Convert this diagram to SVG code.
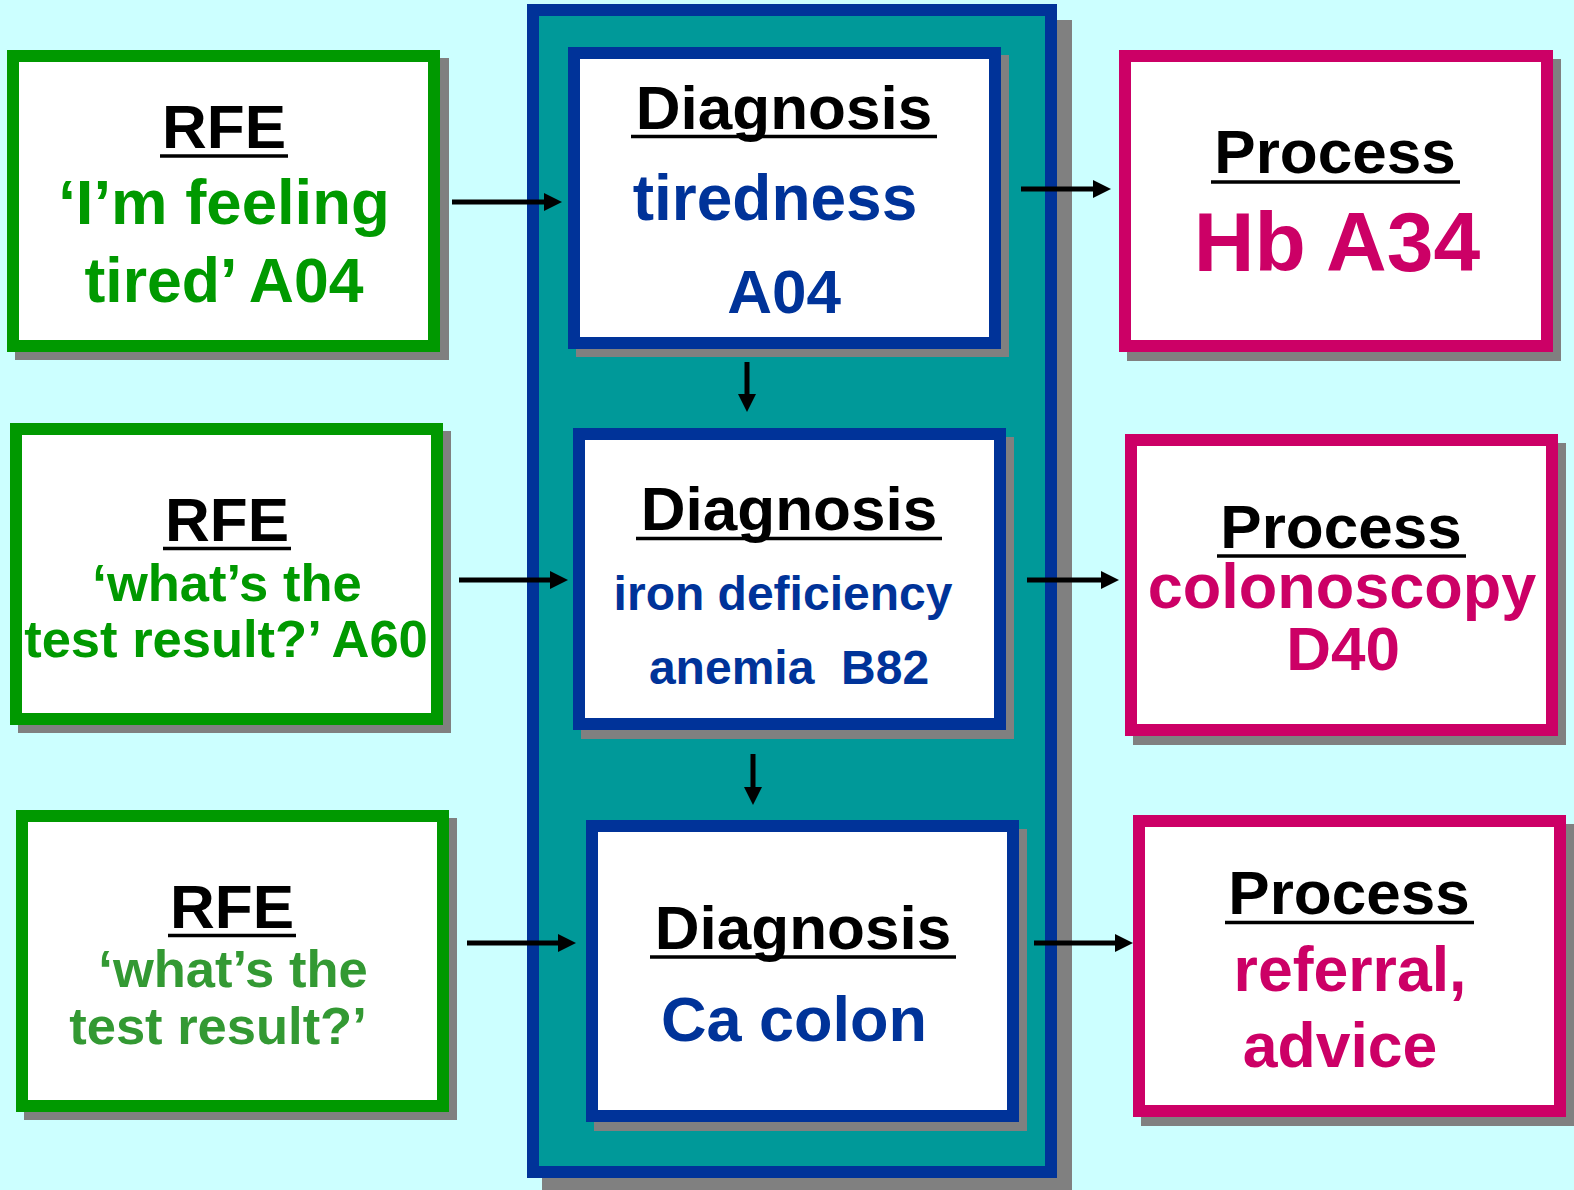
<svg xmlns="http://www.w3.org/2000/svg" width="1574" height="1190" viewBox="0 0 1574 1190">
<style>
text{font-family:"Liberation Sans",Arial,sans-serif;font-weight:bold;text-anchor:middle;white-space:pre}
.sh{fill:#808080}
.rfe{fill:#fff;stroke:#009900;stroke-width:12}
.dia{fill:#fff;stroke:#003399;stroke-width:12}
.pro{fill:#fff;stroke:#CC0066;stroke-width:12}
.h{fill:#000;font-size:62px}
.ul{stroke:#000;stroke-width:3.5}
.g{fill:#009900}
.lg{fill:#339933}
.b{fill:#003399}
.m{fill:#CC0066}
.c{stroke:#000;stroke-width:5;fill:none;marker-end:url(#ah)}
</style>
<defs>
<marker id="ah" markerUnits="userSpaceOnUse" markerWidth="18" markerHeight="18" refX="0" refY="9" orient="auto">
<path d="M0,0 L18,9 L0,18 z" fill="#000"/>
</marker>
</defs>
<rect width="1574" height="1190" fill="#CCFFFF"/>
<g id="container">
<rect class="sh" x="542" y="20" width="530" height="1175"/>
<rect x="533" y="10" width="518" height="1162" fill="#009999" stroke="#003399" stroke-width="12"/>
</g>
<g id="rfe1">
<rect class="sh" x="15" y="58" width="434" height="302"/>
<rect class="rfe" x="13" y="56" width="421" height="290"/>
<text class="h" x="224" y="148">RFE</text>
<line class="ul" x1="160" y1="156" x2="288" y2="156"/>
<text class="g" font-size="63.5" x="224" y="224">‘I’m feeling</text>
<text class="g" font-size="62.5" x="224" y="302">tired’ A04</text>
</g>
<g id="rfe2">
<rect class="sh" x="18" y="431" width="433" height="302"/>
<rect class="rfe" x="16" y="429" width="421" height="290"/>
<text class="h" x="227" y="541">RFE</text>
<line class="ul" x1="163" y1="548.5" x2="291" y2="548.5"/>
<text class="g" font-size="52.5" x="227" y="601">‘what’s the</text>
<text class="g" font-size="52.5" x="226" y="657">test result?’ A60</text>
</g>
<g id="rfe3">
<rect class="sh" x="24" y="818" width="433" height="302"/>
<rect class="rfe" x="22" y="816" width="421" height="290"/>
<text class="h" x="232" y="928">RFE</text>
<line class="ul" x1="168" y1="935.5" x2="296" y2="935.5"/>
<text class="lg" font-size="52.5" x="233" y="987">‘what’s the</text>
<text class="lg" font-size="52.5" x="218" y="1044">test result?’</text>
</g>
<g id="diag1">
<rect class="sh" x="576" y="55" width="433" height="302"/>
<rect class="dia" x="574" y="53" width="421" height="290"/>
<text class="h" x="784" y="129">Diagnosis</text>
<line class="ul" x1="631" y1="136.5" x2="937" y2="136.5"/>
<text class="b" font-size="64" x="775" y="220">tiredness</text>
<text class="b" font-size="62" x="784" y="313">A04</text>
</g>
<g id="diag2">
<rect class="sh" x="581" y="437" width="433" height="302"/>
<rect class="dia" x="579" y="434" width="421" height="290"/>
<text class="h" x="789" y="530">Diagnosis</text>
<line class="ul" x1="636" y1="538.5" x2="942" y2="538.5"/>
<text class="b" font-size="48" x="783" y="610">iron deficiency</text>
<text class="b" font-size="48" x="789" y="684">anemia  B82</text>
</g>
<g id="diag3">
<rect class="sh" x="594" y="829" width="433" height="302"/>
<rect class="dia" x="592" y="826" width="421" height="290"/>
<text class="h" x="803" y="949">Diagnosis</text>
<line class="ul" x1="650" y1="957" x2="956" y2="957"/>
<text class="b" font-size="63" x="794" y="1041">Ca colon</text>
</g>
<g id="proc1">
<rect class="sh" x="1127" y="59" width="434" height="302"/>
<rect class="pro" x="1125" y="56" width="422" height="290"/>
<text class="h" x="1335" y="173">Process</text>
<line class="ul" x1="1211" y1="182" x2="1460" y2="182"/>
<text class="m" font-size="84" x="1337" y="271">Hb A34</text>
</g>
<g id="proc2">
<rect class="sh" x="1133" y="443" width="433" height="302"/>
<rect class="pro" x="1131" y="440" width="421" height="290"/>
<text class="h" x="1341" y="548">Process</text>
<line class="ul" x1="1217" y1="556" x2="1466" y2="556"/>
<text class="m" font-size="63" x="1342" y="608">colonoscopy</text>
<text class="m" font-size="62" x="1343" y="670">D40</text>
</g>
<g id="proc3">
<rect class="sh" x="1141" y="824" width="433" height="302"/>
<rect class="pro" x="1139" y="821" width="421" height="290"/>
<text class="h" x="1349" y="914">Process</text>
<line class="ul" x1="1225" y1="922.5" x2="1474" y2="922.5"/>
<text class="m" font-size="62.5" x="1350" y="991">referral,</text>
<text class="m" font-size="62.5" x="1340" y="1067">advice</text>
</g>
<g id="connectors">
<line class="c" x1="452" y1="202" x2="544" y2="202"/>
<line class="c" x1="459" y1="580" x2="550" y2="580"/>
<line class="c" x1="467" y1="943" x2="558" y2="943"/>
<line class="c" x1="1021" y1="189" x2="1093" y2="189"/>
<line class="c" x1="1027" y1="580" x2="1101" y2="580"/>
<line class="c" x1="1034" y1="943" x2="1115" y2="943"/>
<line class="c" x1="747" y1="362" x2="747" y2="394"/>
<line class="c" x1="753" y1="754" x2="753" y2="787"/>
</g>
</svg>
